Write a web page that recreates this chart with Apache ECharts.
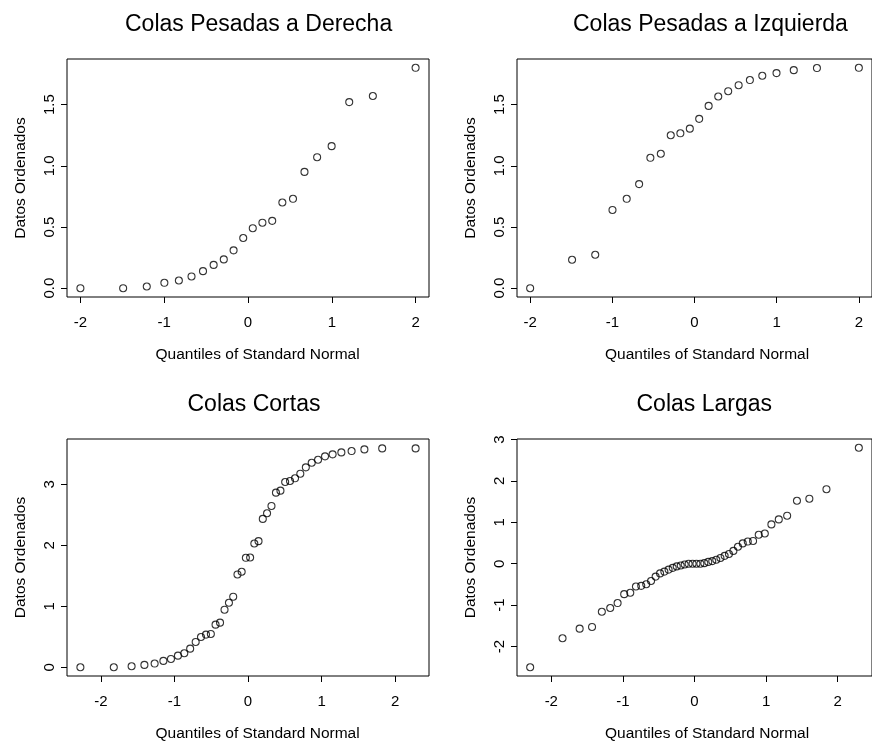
<!DOCTYPE html>
<html>
<head>
<meta charset="utf-8">
<title>Colas</title>
<script src="https://cdn.jsdelivr.net/npm/echarts@6/dist/echarts.min.js"></script>
<style>
  html, body { margin: 0; padding: 0; background: #fff; }
  #chart { width: 872px; height: 742px; }
</style>
</head>
<body>
<div id="chart"></div>
<script>
// cuantiles de la normal estandar (eje x), n = 22, 44 y 46
var q22 = [-2.000, -1.490, -1.208, -0.998, -0.825, -0.674, -0.537, -0.410, -0.289, -0.172, -0.057,
            0.057, 0.172, 0.289, 0.410, 0.537, 0.674, 0.825, 0.998, 1.208, 1.490, 2.000];
var q44 = [-2.278, -1.824, -1.582, -1.408, -1.269, -1.150, -1.047, -0.952, -0.866, -0.786, -0.711,
           -0.639, -0.571, -0.505, -0.441, -0.380, -0.319, -0.259, -0.201, -0.143, -0.086, -0.029,
            0.029, 0.086, 0.143, 0.201, 0.259, 0.319, 0.380, 0.441, 0.505, 0.571, 0.639,
            0.711, 0.786, 0.866, 0.952, 1.047, 1.150, 1.269, 1.408, 1.582, 1.824, 2.278];
var q46 = [-2.295, -1.843, -1.604, -1.431, -1.294, -1.177, -1.074, -0.982, -0.897, -0.818, -0.744,
           -0.674, -0.607, -0.543, -0.481, -0.421, -0.362, -0.304, -0.248, -0.192, -0.137, -0.082, -0.027,
            0.027, 0.082, 0.137, 0.192, 0.248, 0.304, 0.362, 0.421, 0.481, 0.543, 0.607, 0.674,
            0.744, 0.818, 0.897, 0.982, 1.074, 1.177, 1.294, 1.431, 1.604, 1.843, 2.295];

// datos ordenados de cada panel
var derecha = [0, 0, 0.014, 0.044, 0.063, 0.096, 0.139, 0.19, 0.235, 0.309, 0.41,
               0.49, 0.535, 0.55, 0.70, 0.73, 0.95, 1.07, 1.16, 1.52, 1.57, 1.80];
var izquierda = [0, 0.232, 0.273, 0.639, 0.73, 0.85, 1.065, 1.098, 1.249, 1.265, 1.303,
                 1.383, 1.489, 1.566, 1.609, 1.658, 1.70, 1.735, 1.757, 1.781, 1.798, 1.80];
var cortas = [0, 0, 0.016, 0.038, 0.06, 0.104, 0.136, 0.19, 0.229, 0.305, 0.415,
              0.496, 0.535, 0.546, 0.698, 0.731, 0.944, 1.058, 1.157, 1.522, 1.566, 1.795,
              1.80, 2.03, 2.068, 2.433, 2.526, 2.646, 2.864, 2.897, 3.039, 3.055, 3.099,
              3.175, 3.279, 3.355, 3.404, 3.459, 3.492, 3.524, 3.546, 3.573, 3.59, 3.59];
var largas = [-2.5, -1.80, -1.568, -1.527, -1.161, -1.07, -0.95, -0.735, -0.702, -0.551, -0.535, -0.497,
              -0.417, -0.311, -0.234, -0.191, -0.142, -0.10, -0.065, -0.043, -0.019, -0.002, 0,
              0, 0, 0.014, 0.044, 0.063, 0.096, 0.139, 0.19, 0.235, 0.309, 0.41, 0.49,
              0.535, 0.55, 0.70, 0.73, 0.95, 1.07, 1.16, 1.52, 1.57, 1.80, 2.8];

var titulos = ['Colas Pesadas a Derecha', 'Colas Pesadas a Izquierda', 'Colas Cortas', 'Colas Largas'];
var xTicks = [-2, -1, 0, 1, 2];
var yTicks12 = [0, 0.5, 1, 1.5];
var yTicks3 = [0, 1, 2, 3];
var yTicks4 = [-2, -1, 0, 1, 2, 3];
var xName = 'Quantiles of Standard Normal';
var yName = 'Datos Ordenados';

var FONT = '"Liberation Sans", Arial, Helvetica, sans-serif';

var panels = [
  {xs: q22, ys: derecha,   xr: 2.16,  yr: [-0.072, 1.872], yt: yTicks12, dec: 1},
  {xs: q22, ys: izquierda, xr: 2.16,  yr: [-0.072, 1.872], yt: yTicks12, dec: 1},
  {xs: q44, ys: cortas,    xr: 2.46,  yr: [-0.144, 3.744], yt: yTicks3,  dec: 0},
  {xs: q46, ys: largas,    xr: 2.479, yr: [-2.712, 3.012], yt: yTicks4,  dec: 0}
];

// cajas de cada panel (px)
var boxes = [
  {left: 67,  top: 59,  width: 362, height: 238},
  {left: 517, top: 59,  width: 362, height: 238},
  {left: 67,  top: 439, width: 362, height: 237},
  {left: 517, top: 439, width: 362, height: 237}
];
var titleLeft = [125, 573, 187.5, 636.5];
var xNameLeft = [155.5, 605, 155.5, 605];

var chart = echarts.init(document.getElementById('chart'));

var grids = [], xAxes = [], yAxes = [], series = [], titles = [];
panels.forEach(function (p, i) {
  var b = boxes[i];
  grids.push({
    left: b.left, top: b.top, width: b.width, height: b.height,
    show: true, borderColor: '#000', borderWidth: 1, backgroundColor: 'transparent'
  });
  xAxes.push({
    type: 'value', gridIndex: i, min: -p.xr, max: p.xr, position: 'bottom',
    axisLine: {show: false, onZero: false},
    splitLine: {show: false},
    axisTick: {show: true, inside: false, length: 6, lineStyle: {color: '#000', width: 1}, customValues: xTicks},
    axisLabel: {customValues: xTicks, margin: 18, color: '#000', fontSize: 15, fontFamily: FONT}
  });
  yAxes.push({
    type: 'value', gridIndex: i, min: p.yr[0], max: p.yr[1], position: 'left',
    name: yName, nameLocation: 'middle', nameRotate: 90, nameGap: 38,
    nameTextStyle: {color: '#000', fontSize: 15.5, fontFamily: FONT},
    axisLine: {show: false, onZero: false},
    splitLine: {show: false},
    axisTick: {show: true, inside: false, length: 6, lineStyle: {color: '#000', width: 1}, customValues: p.yt},
    axisLabel: {
      customValues: p.yt, rotate: 90, margin: 10, color: '#000', fontSize: 15, fontFamily: FONT,
      formatter: function (v) { return v.toFixed(p.dec); }
    }
  });
  series.push({
    type: 'scatter', xAxisIndex: i, yAxisIndex: i,
    symbol: 'circle', symbolSize: 7,
    itemStyle: {color: 'rgba(0,0,0,0)', borderColor: '#000', borderWidth: 1.1},
    data: p.xs.map(function (x, k) { return [x, p.ys[k]]; }),
    silent: true
  });
  titles.push({
    text: titulos[i], left: titleLeft[i], top: b.top - 46, padding: 0,
    textStyle: {color: '#000', fontSize: 23, fontWeight: 'normal', fontFamily: FONT}
  });
  titles.push({
    text: xName, left: xNameLeft[i], top: b.top + b.height + 50, padding: 0,
    textStyle: {color: '#000', fontSize: 15.5, fontWeight: 'normal', fontFamily: FONT}
  });
});

chart.setOption({
  backgroundColor: '#fff',
  animation: false,
  title: titles,
  grid: grids,
  xAxis: xAxes,
  yAxis: yAxes,
  series: series
});
</script>
</body>
</html>
